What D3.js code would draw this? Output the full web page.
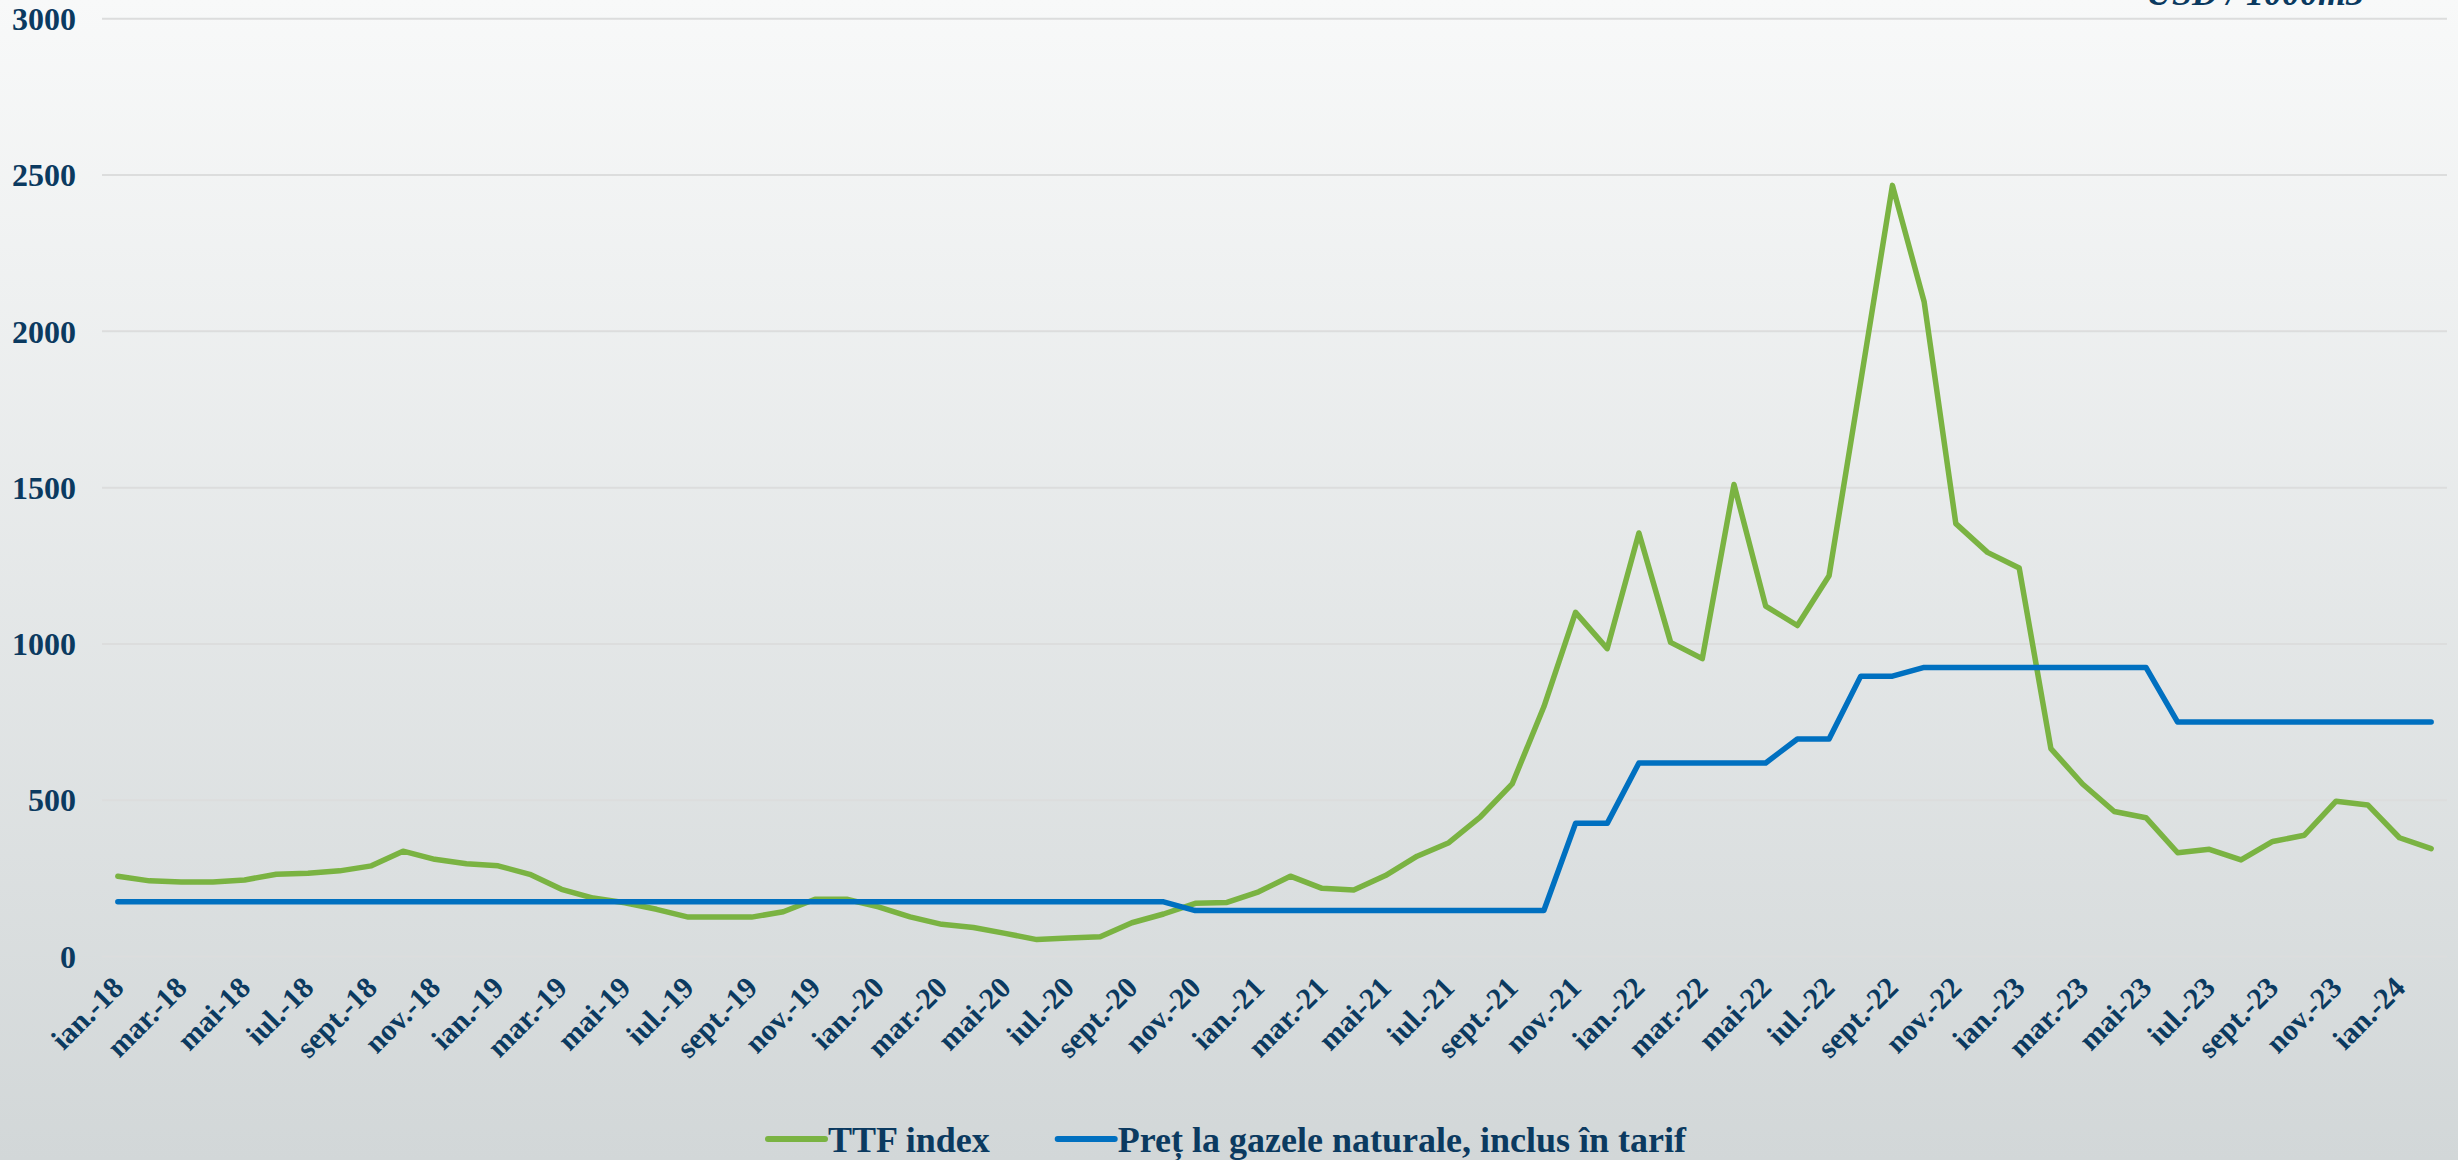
<!DOCTYPE html>
<html>
<head>
<meta charset="utf-8">
<script src="https://cdn.jsdelivr.net/npm/d3@7"></script>
<style>
  html, body { margin: 0; padding: 0; overflow: hidden; }
  text { font-family: "Liberation Serif", "Times New Roman", serif; font-weight: bold; fill: #0b3a60; }
</style>
</head>
<body>
<script>
const WIDTH = 2458;
const HEIGHT = 1160;

// Month abbreviations and years used for the category axis.
const monthNames = ["ian.", "feb.", "mar.", "apr.", "mai", "iun.", "iul.", "aug.", "sept.", "oct.", "nov.", "dec."];
const years = ["18", "19", "20", "21", "22", "23", "24"];
const monthCount = 74; // ian.-18 .. feb.-24

// TTF index, USD / 1000m3
const ttfIndex = [
    257, 242, 238, 238, 245, 263, 266, 274, 290, 337, 311, 297,
    290, 263, 215, 187, 172, 151, 126, 126, 126, 143, 183, 183,
    159, 127, 103, 93, 74, 54, 59, 63, 108, 136, 170, 173,
    207, 257, 218, 213, 259, 321, 364, 447, 552, 799, 1101, 985,
    1355, 1005, 953, 1510, 1121, 1059, 1218, 1840, 2467, 2095, 1385, 1293,
    1243, 665, 552, 464, 444, 332, 343, 309, 368, 388, 497, 485,
    380, 345
];

// Pret la gazele naturale, inclus in tarif
const tariffPrice = [
    175, 175, 175, 175, 175, 175, 175, 175, 175, 175, 175, 175,
    175, 175, 175, 175, 175, 175, 175, 175, 175, 175, 175, 175,
    175, 175, 175, 175, 175, 175, 175, 175, 175, 175, 147, 147,
    147, 147, 147, 147, 147, 147, 147, 147, 147, 147, 426, 426,
    619, 619, 619, 619, 619, 696, 696, 897, 897, 925, 925, 925,
    925, 925, 925, 925, 925, 750, 750, 750, 750, 750, 750, 750,
    750, 750
];

const yTicks = [0, 500, 1000, 1500, 2000, 2500, 3000];

const seriesNames = ["TTF index", "Preț la gazele naturale, inclus în tarif"];
const seriesColors = ["#7ab342", "#0070c0"];

var categories = [];
for (let i = 0; i < monthCount; i++) {
    categories.push(monthNames[i % 12] + "-" + years[Math.floor(i / 12)]);
}

const svg = d3.select("body").append("svg")
    .attr("width", WIDTH).attr("height", HEIGHT);

// Background gradient.
const grad = svg.append("defs").append("linearGradient")
    .attr("id", "bg").attr("x1", 0).attr("y1", 0).attr("x2", 0).attr("y2", 1);
grad.append("stop").attr("offset", "0%").attr("stop-color", "#f8f9f9");
grad.append("stop").attr("offset", "100%").attr("stop-color", "#d2d7d8");
svg.append("rect").attr("width", WIDTH).attr("height", HEIGHT).attr("fill", "url(#bg)");

const plot = { left: 102, right: 2447, top: 18.8, bottom: 956.5 };

const x = d3.scalePoint()
    .domain(categories)
    .range([plot.left, plot.right])
    .padding(0.5);

const y = d3.scaleLinear()
    .domain([0, 3000])
    .range([plot.bottom, plot.top]);

// Gridlines.
svg.append("g")
    .selectAll("line")
    .data(yTicks)
    .enter()
    .append("line")
        .attr("x1", plot.left).attr("x2", plot.right)
        .attr("y1", d => y(d)).attr("y2", d => y(d))
        .attr("stroke", "#dcdddd")
        .attr("stroke-width", 2);

// Y axis labels.
svg.append("g")
    .selectAll("text")
    .data(yTicks)
    .enter()
    .append("text")
        .attr("x", 76)
        .attr("y", d => y(d))
        .attr("dy", "0.35em")
        .attr("text-anchor", "end")
        .attr("font-size", "32px")
        .text(d => d);

// X axis labels, every second month, rotated.
svg.append("g")
    .selectAll("text")
    .data(categories.filter((d, i) => i % 2 === 0))
    .enter()
    .append("text")
        .attr("transform", d => "translate(" + x(d) + ",982) rotate(-45)")
        .attr("dy", "0.35em")
        .attr("text-anchor", "end")
        .attr("font-size", "30px")
        .text(d => d);

// Lines.
const line = d3.line()
    .x((d, i) => x(categories[i]))
    .y(d => y(d));

[ttfIndex, tariffPrice].forEach((series, k) => {
    svg.append("path")
        .datum(series)
        .attr("d", line)
        .attr("fill", "none")
        .attr("stroke", seriesColors[k])
        .attr("stroke-width", 5.5)
        .attr("stroke-linejoin", "round")
        .attr("stroke-linecap", "round");
});

// Unit label, mostly cut off at the top as in the source.
svg.append("text")
    .attr("x", 2364).attr("y", 5)
    .attr("text-anchor", "end")
    .attr("font-size", "36px")
    .attr("font-style", "italic")
    .text("USD / 1000m3");

// Legend.
const legend = svg.append("g");
let lx = 768;
seriesNames.forEach((name, k) => {
    legend.append("line")
        .attr("x1", lx).attr("x2", lx + 57)
        .attr("y1", 1139).attr("y2", 1139)
        .attr("stroke", seriesColors[k])
        .attr("stroke-width", 6)
        .attr("stroke-linecap", "round");
    const t = legend.append("text")
        .attr("x", lx + 60).attr("y", 1139)
        .attr("dy", "0.35em")
        .attr("font-size", "36px")
        .text(name);
    lx += 60 + t.node().getComputedTextLength() + 68;
});
</script>
</body>
</html>
